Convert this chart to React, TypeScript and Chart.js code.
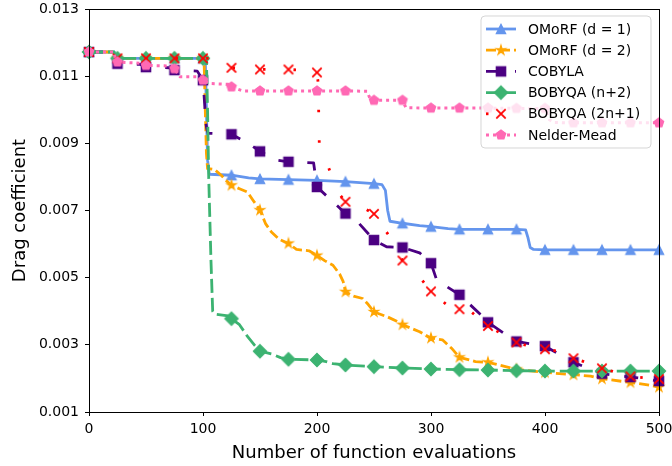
import React, { useEffect, useRef } from 'react';
import { Chart, registerables } from 'chart.js';

Chart.register(...registerables);

// ---------- data ----------
const xTicks = [0, 100, 200, 300, 400, 500];
const yTicks = [0.001, 0.003, 0.005, 0.007, 0.009, 0.011, 0.013];
const xLabel = 'Number of function evaluations';
const yLabel = 'Drag coefficient';
const seriesNames = ['OMoRF (d = 1)', 'OMoRF (d = 2)', 'COBYLA', 'BOBYQA (n+2)', 'BOBYQA (2n+1)', 'Nelder-Mead'];

const omorf1: [number, number][] = [
  [0, 0.01172], [22, 0.01172], [23.5, 0.01153], [25, 0.01153], [50, 0.01153], [75, 0.01153], [100, 0.01153],
  [102, 0.0115], [103, 0.0100], [104, 0.0085], [105.5, 0.00808], [125, 0.00805], [140, 0.00797], [150, 0.00794],
  [175, 0.00792], [200, 0.0079], [225, 0.00786], [250, 0.0078], [257, 0.00777], [260, 0.0076], [262, 0.0070],
  [264, 0.00668], [275, 0.00662], [290, 0.00655], [300, 0.00652], [315, 0.00646], [325, 0.00644], [350, 0.00644],
  [375, 0.00644], [383, 0.00642], [385, 0.0062], [387, 0.0059], [390, 0.00584], [400, 0.00583], [425, 0.00583],
  [450, 0.00583], [475, 0.00583], [500, 0.00583],
];

const omorf2: [number, number][] = [
  [0, 0.01172], [22, 0.01172], [23.5, 0.01153], [25, 0.01153], [50, 0.01153], [75, 0.01153], [100, 0.01153],
  [101, 0.0114], [102, 0.0100], [103, 0.0087], [104, 0.00825], [110, 0.00822], [116, 0.00805], [120, 0.0079],
  [125, 0.00775], [132, 0.00765], [139, 0.00755], [144, 0.0073], [150, 0.00701], [155, 0.0066], [160, 0.00636],
  [167, 0.00614], [175, 0.00602], [182, 0.00584], [193, 0.0058], [200, 0.00566], [207, 0.0055], [214, 0.00537],
  [220, 0.0051], [223, 0.00488], [225, 0.00458], [232, 0.00445], [240, 0.00438], [245, 0.0042], [250, 0.00398],
  [262, 0.00383], [270, 0.0037], [275, 0.0036], [290, 0.00339], [300, 0.0032], [310, 0.00315], [318, 0.0029],
  [325, 0.00263], [339, 0.0025], [350, 0.00248], [362, 0.00238], [375, 0.00227], [400, 0.00218], [425, 0.00211],
  [440, 0.00207], [450, 0.00199], [475, 0.00188], [490, 0.00181], [500, 0.00174],
];

const cobyla: [number, number][] = [
  [0, 0.01172], [22, 0.01172], [23.5, 0.01137], [25, 0.01137], [45, 0.01135], [50, 0.01127], [70, 0.01125],
  [75, 0.01118], [95, 0.01115], [100, 0.01088], [101, 0.0104], [102.5, 0.0096], [103.5, 0.0094], [104.5, 0.0093],
  [125, 0.00927], [140, 0.0090], [150, 0.00876], [165, 0.0085], [175, 0.00845], [197, 0.00842], [200, 0.0077],
  [214, 0.00726], [225, 0.00691], [237, 0.00661], [250, 0.00612], [261, 0.00592], [275, 0.0059], [290, 0.00574],
  [300, 0.00543], [305, 0.00493], [325, 0.00449], [348, 0.00376], [350, 0.00367], [368, 0.00325], [375, 0.0031],
  [400, 0.00296], [425, 0.00248], [450, 0.00214], [475, 0.00204], [490, 0.00198], [500, 0.00192],
];

const bobyqaN2: [number, number][] = [
  [0, 0.01172], [22, 0.01172], [23.5, 0.01153], [25, 0.01153], [50, 0.01153], [75, 0.01153], [100, 0.01153],
  [103, 0.0115], [104, 0.0100], [105, 0.0080], [107, 0.0055], [108.5, 0.0040], [110, 0.00392], [122, 0.00386],
  [125, 0.00378], [132, 0.0036], [139, 0.00325], [145, 0.003], [150, 0.00281], [160, 0.00273], [168, 0.00262],
  [175, 0.00257], [200, 0.00255], [208, 0.0025], [214, 0.00244], [225, 0.0024], [250, 0.00235], [275, 0.00231],
  [300, 0.00228], [325, 0.00226], [350, 0.00225], [375, 0.00223], [400, 0.00222], [425, 0.00222], [450, 0.00222],
  [475, 0.00222], [500, 0.00222],
];

const bobyqa2N1: [number, number][] = [
  [0, 0.01172], [22, 0.01172], [23.5, 0.01153], [25, 0.01153], [50, 0.01153], [75, 0.01153], [100, 0.01153],
  [112, 0.01153], [118, 0.01128], [125, 0.01125], [150, 0.0112], [175, 0.0112], [185, 0.01118], [195, 0.01112],
  [200, 0.01111], [201, 0.0108], [201.5, 0.0099], [202, 0.009], [205, 0.0085], [210, 0.0083], [217, 0.0076],
  [225, 0.00726], [234, 0.0072], [250, 0.0069], [263, 0.00626], [275, 0.00551], [287, 0.00515], [300, 0.00459],
  [314, 0.00419], [325, 0.00406], [336, 0.00396], [350, 0.00356], [375, 0.00307], [390, 0.00292], [400, 0.00287],
  [414, 0.0028], [425, 0.0026], [434, 0.0025], [450, 0.0023], [475, 0.00206], [500, 0.00198],
];

const nelderMead: [number, number][] = [
  [0, 0.01172], [22, 0.01172], [23.5, 0.01142], [25, 0.01142], [48, 0.01138], [50, 0.01132], [73, 0.0113],
  [75, 0.01122], [80, 0.01098], [98, 0.01098], [100, 0.01088], [106, 0.01078], [122, 0.01076], [125, 0.01068],
  [135, 0.01056], [150, 0.01056], [175, 0.01056], [200, 0.01056], [225, 0.01056], [244, 0.01055], [247, 0.01029],
  [250, 0.01028], [275, 0.01028], [278, 0.01006], [300, 0.01005], [325, 0.01005], [350, 0.01005], [375, 0.01004],
  [400, 0.01004], [404, 0.0097], [408, 0.00962], [425, 0.00961], [450, 0.00961], [475, 0.00961], [500, 0.00961],
];

const seriesData = [omorf1, omorf2, cobyla, bobyqaN2, bobyqa2N1, nelderMead];

// ---------- styles ----------
const STYLES = [
  { color: '#6495ED', dash: [] as number[], width: 2.8, marker: 'triangle' },
  { color: '#FFA500', dash: [10, 4], width: 2.8, marker: 'star' },
  { color: '#4B0082', dash: [14, 15], width: 2.8, marker: 'square' },
  { color: '#3CB371', dash: [14, 5], width: 2.8, marker: 'diamond' },
  { color: '#FF0000', dash: [2.5, 28], width: 2.8, marker: 'x' },
  { color: '#FF69B4', dash: [3, 4], width: 3, marker: 'pentagon' },
];
const MARK_EVERY = 25;
const FONT = "'DejaVu Sans', sans-serif";

function makeMarker(kind: string, color: string): HTMLCanvasElement {
  const N = 18;
  const c = document.createElement('canvas');
  c.width = N;
  c.height = N;
  const g = c.getContext('2d')!;
  const h = N / 2;
  const s = 4.7;
  g.fillStyle = color;
  g.strokeStyle = color;
  g.lineWidth = 1.2;
  g.lineJoin = 'miter';
  g.beginPath();
  if (kind === 'triangle') {
    g.moveTo(h, h - s);
    g.lineTo(h - s, h + s);
    g.lineTo(h + s, h + s);
    g.closePath();
  } else if (kind === 'square') {
    g.rect(h - s, h - s, 2 * s, 2 * s);
  } else if (kind === 'diamond') {
    const d = s * Math.SQRT2;
    g.moveTo(h, h - d);
    g.lineTo(h + d, h);
    g.lineTo(h, h + d);
    g.lineTo(h - d, h);
    g.closePath();
  } else if (kind === 'star') {
    for (let k = 0; k < 10; k++) {
      const r = k % 2 ? s * 0.381966 : s * 1.05;
      const a = -Math.PI / 2 + (k * Math.PI) / 5;
      const px = h + r * Math.cos(a);
      const py = h + r * Math.sin(a);
      if (k === 0) g.moveTo(px, py);
      else g.lineTo(px, py);
    }
    g.closePath();
  } else if (kind === 'pentagon') {
    for (let k = 0; k < 5; k++) {
      const a = -Math.PI / 2 + (k * 2 * Math.PI) / 5;
      const px = h + s * 1.05 * Math.cos(a);
      const py = h + s * 1.05 * Math.sin(a);
      if (k === 0) g.moveTo(px, py);
      else g.lineTo(px, py);
    }
    g.closePath();
  } else if (kind === 'x') {
    g.moveTo(h - s, h - s);
    g.lineTo(h + s, h + s);
    g.moveTo(h - s, h + s);
    g.lineTo(h + s, h - s);
    g.lineWidth = 1.8;
    g.stroke();
    return c;
  }
  g.fill();
  g.stroke();
  return c;
}

export default function App() {
  const ref = useRef<HTMLCanvasElement>(null);

  useEffect(() => {
    const canvas = ref.current!;
    const markers = STYLES.map((s) => makeMarker(s.marker, s.color));

    const isMark = (x: number) => Math.abs(x / MARK_EVERY - Math.round(x / MARK_EVERY)) < 1e-9;

    const datasets = seriesData.map((pts, i) => ({
      label: seriesNames[i],
      data: pts.map(([x, y]) => ({ x, y })),
      borderColor: STYLES[i].color,
      backgroundColor: STYLES[i].color,
      borderWidth: STYLES[i].width,
      borderDash: STYLES[i].dash,
      borderCapStyle: 'butt' as const,
      borderJoinStyle: 'round' as const,
      tension: 0,
      pointStyle: markers[i],
      pointRadius: (ctx: any) => (ctx.raw && isMark(ctx.raw.x) ? 5 : 0),
      pointHoverRadius: 0,
      order: seriesData.length - i,
      clip: false as const,
    }));

    const decor = {
      id: 'decor',
      afterDatasetsDraw(chart: any) {
        const { ctx, chartArea: a } = chart;
        ctx.save();
        // spines
        ctx.strokeStyle = '#000';
        ctx.lineWidth = 1;
        ctx.setLineDash([]);
        ctx.strokeRect(a.left + 0.5, a.top + 0.5, a.right - a.left, a.bottom - a.top);
        // axis labels
        ctx.fillStyle = '#000';
        ctx.font = `18px ${FONT}`;
        ctx.textAlign = 'center';
        ctx.textBaseline = 'alphabetic';
        ctx.fillText(xLabel, (a.left + a.right) / 2, 458);
        ctx.save();
        ctx.translate(20, (a.top + a.bottom) / 2);
        ctx.rotate(-Math.PI / 2);
        ctx.textBaseline = 'middle';
        ctx.fillText(yLabel, 0, 0);
        ctx.restore();
        // legend
        const lx = 481, ly = 16, lw = 170, lh = 132, r = 4;
        ctx.beginPath();
        ctx.moveTo(lx + r, ly);
        ctx.arcTo(lx + lw, ly, lx + lw, ly + lh, r);
        ctx.arcTo(lx + lw, ly + lh, lx, ly + lh, r);
        ctx.arcTo(lx, ly + lh, lx, ly, r);
        ctx.arcTo(lx, ly, lx + lw, ly, r);
        ctx.closePath();
        ctx.fillStyle = 'rgba(255,255,255,0.8)';
        ctx.fill();
        ctx.strokeStyle = 'rgba(204,204,204,0.8)';
        ctx.lineWidth = 1;
        ctx.stroke();
        seriesNames.forEach((name, i) => {
          const y = 29 + i * 21.2;
          const st = STYLES[i];
          ctx.strokeStyle = st.color;
          ctx.lineWidth = st.width;
          ctx.lineCap = 'butt';
          ctx.setLineDash(st.dash);
          ctx.beginPath();
          ctx.moveTo(486, y);
          ctx.lineTo(516, y);
          ctx.stroke();
          ctx.setLineDash([]);
          const m = markers[i];
          ctx.drawImage(m, 501 - m.width / 2, y - m.height / 2);
          ctx.fillStyle = '#000';
          ctx.font = `14px ${FONT}`;
          ctx.textAlign = 'left';
          ctx.textBaseline = 'middle';
          ctx.fillText(name, 528, y + 1);
        });
        ctx.restore();
      },
    };

    const chart = new Chart(canvas, {
      type: 'line',
      data: { datasets: datasets as any },
      options: {
        responsive: false,
        animation: false,
        devicePixelRatio: 1,
        events: [],
        layout: { padding: { top: 9, right: 13, left: 0, bottom: 0 } },
        plugins: { legend: { display: false }, tooltip: { enabled: false } },
        scales: {
          x: {
            type: 'linear',
            min: 0,
            max: 500,
            afterBuildTicks: (scale: any) => {
              scale.ticks = xTicks.map((v) => ({ value: v }));
            },
            afterFit: (scale: any) => {
              scale.height = 54;
              scale.paddingLeft = 0;
              scale.paddingRight = 0;
            },
            grid: { drawOnChartArea: false, tickLength: 4, tickColor: '#000', tickWidth: 1 },
            border: { display: false },
            ticks: {
              color: '#000',
              font: { family: FONT, size: 14 },
              padding: 5,
              maxRotation: 0,
              autoSkip: false,
              callback: (v: any) => String(v),
            },
          },
          y: {
            type: 'linear',
            min: 0.001,
            max: 0.013,
            afterBuildTicks: (scale: any) => {
              scale.ticks = yTicks.map((v) => ({ value: v }));
            },
            afterFit: (scale: any) => {
              scale.width = 89;
              scale.paddingTop = 0;
              scale.paddingBottom = 0;
            },
            grid: { drawOnChartArea: false, tickLength: 4, tickColor: '#000', tickWidth: 1 },
            border: { display: false },
            ticks: {
              color: '#000',
              font: { family: FONT, size: 14 },
              padding: 6,
              autoSkip: false,
              callback: (v: any) => Number(v).toFixed(3),
            },
          },
        },
      },
      plugins: [decor],
    });

    return () => chart.destroy();
  }, []);

  return (
    <canvas
      ref={ref}
      width={672}
      height={466}
      style={{ position: 'absolute', left: 0, top: 0, width: 672, height: 466 }}
    />
  );
}
